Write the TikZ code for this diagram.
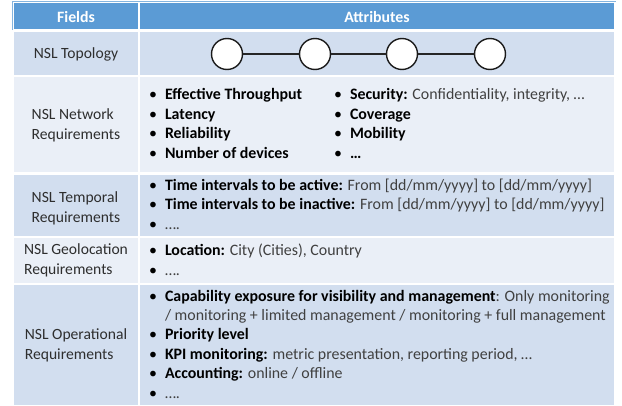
\documentclass[tikz,border=0pt]{standalone}
\usepackage{fontspec}
\setmainfont{Carlito}
\usetikzlibrary{positioning}
\definecolor{hdrblue}{HTML}{5B9BD5}
\definecolor{rowdark}{HTML}{D2DEEF}
\definecolor{rowlight}{HTML}{EAEFF7}
\definecolor{dtlgray}{HTML}{404040}
\newcommand{\bitem}[1]{\makebox[16pt][l]{\mdseries\textbullet}#1}
\newcommand{\dtl}[1]{{\mdseries\color{dtlgray}#1}}

\begin{document}
\begin{tikzpicture}[x=1pt,y=-1pt,font=\fontsize{15.6}{19.3}\selectfont,every node/.style={inner sep=0pt,outer sep=0pt},every text node part/.style={align=left},
	hdr/.style={anchor=base,text=white,font=\fontsize{15.8}{19.3}\selectfont\bfseries},
	field/.style={anchor=base,align=center,text=black!82},
	items/.style={anchor=base west,text=black,font=\fontsize{15.9}{19.4}\selectfont\bfseries},
	topo/.style={circle,draw=black!90,line width=1.4pt,fill=white,minimum size=31pt}]
	\useasboundingbox (0,0) rectangle (622,405);

	% cells
	\fill[hdrblue] (14,3) rectangle (138,29);
	\fill[hdrblue] (140,3) rectangle (614,29);
	\fill[rowdark] (14,32) rectangle (138,75);
	\fill[rowdark] (140,32) rectangle (614,75);
	\fill[rowlight] (14,77) rectangle (138,172);
	\fill[rowlight] (140,77) rectangle (614,172);
	\fill[rowdark] (14,175) rectangle (138,236);
	\fill[rowdark] (140,175) rectangle (614,236);
	\fill[rowlight] (14,238) rectangle (138,283);
	\fill[rowlight] (140,238) rectangle (614,283);
	\fill[rowdark] (14,285) rectangle (138,405);
	\fill[rowdark] (140,285) rectangle (614,405);
	\draw[hdrblue!75,line width=0.8pt] (12,30) -- (12,1) -- (616,1);

	% header
	\node (fields) at (76,22.5) [hdr] {Fields};
	\node (attributes) at (377,22.5) [hdr] {Attributes};

	% fields (base = last line)
	\node (lbltopo) at (76,58) [field] {NSL Topology};
	\node (lblnet) at (76,139) [field] {NSL Network\\Requirements};
	\node (lbltemp) at (76,222) [field] {NSL Temporal\\Requirements};
	\node (lblgeo) at (76,274) [field] {NSL Geolocation\\Requirements};
	\node (lblop) at (76,359) [field] {NSL Operational\\Requirements};

	% topology
	\node (ta) at (227,54) [topo] {};
	\node (tb) at (315,54) [topo] {};
	\node (tc) at (402,54) [topo] {};
	\node (td) at (490,54) [topo] {};
	\draw[black!85,line width=1.8pt] (ta) -- (tb) (tb) -- (tc) (tc) -- (td);

	% attributes
	\node (netleft) at (149,158) [items] {\bitem{Effective Throughput}\\\bitem{Latency}\\\bitem{Reliability}\\\bitem{Number of devices}};
	\node (netright) at (334,158) [items] {\bitem{Security: \dtl{Confidentiality, integrity, …}}\\\bitem{Coverage}\\\bitem{Mobility}\\\bitem{…}};
	\node (tempitems) at (149,229) [items] {\bitem{Time intervals to be active: \dtl{From [dd/mm/yyyy] to [dd/mm/yyyy]}}\\\bitem{Time intervals to be inactive: \dtl{From [dd/mm/yyyy] to [dd/mm/yyyy]}}\\\bitem{\dtl{….}}};
	\node (geoitems) at (149,275) [items] {\bitem{Location: \dtl{City (Cities), Country}}\\\bitem{\dtl{….}}};
	\node (opitems) at (149,398) [items] {\bitem{Capability exposure for visibility and management\dtl{: Only monitoring}}\\\hspace*{16pt}\dtl{/ monitoring + limited management / monitoring + full management}\\\bitem{Priority level}\\\bitem{KPI monitoring: \dtl{metric presentation, reporting period, …}}\\\bitem{Accounting: \dtl{online / offline}}\\\bitem{\dtl{….}}};
\end{tikzpicture}
\end{document}
